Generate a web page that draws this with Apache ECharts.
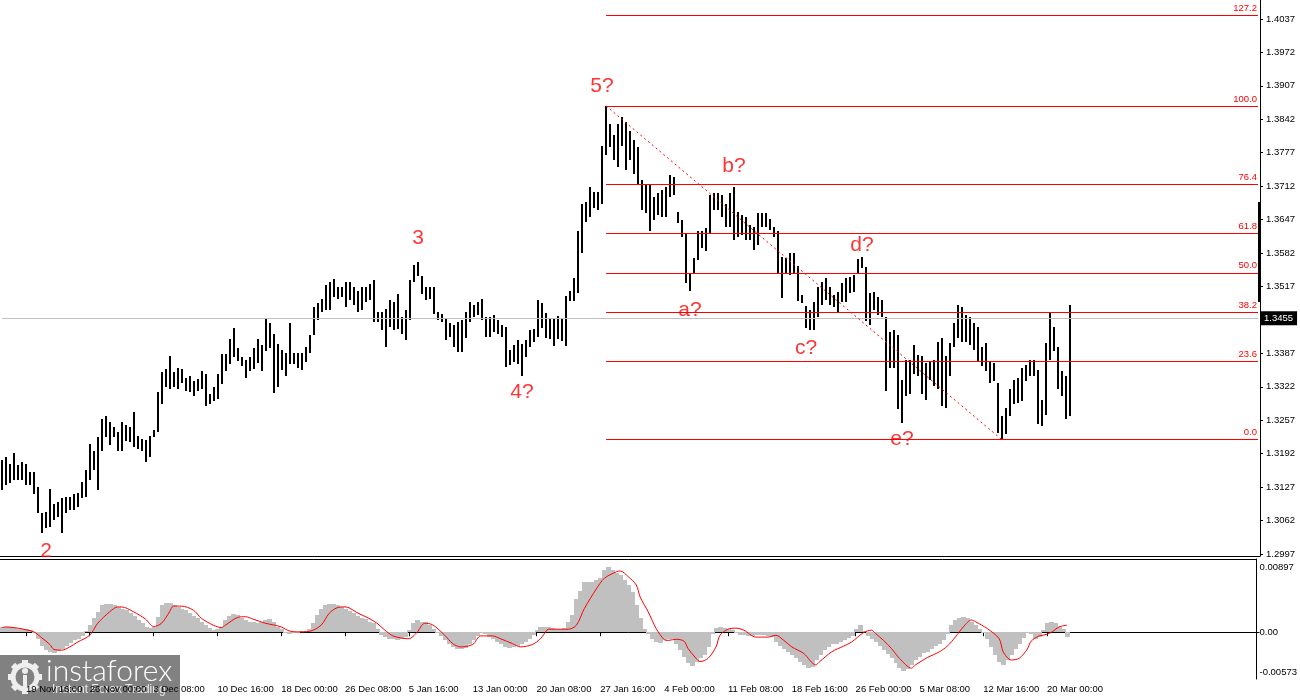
<!DOCTYPE html>
<html><head><meta charset="utf-8">
<script src="https://cdn.jsdelivr.net/npm/echarts@6/dist/echarts.min.js"></script>
<style>html,body{margin:0;padding:0;background:#fff}#c{width:1300px;height:700px}</style>
</head><body><div id="c"></div>
<script>
// ---- price bars (one bar per 4 px column) ----
const barHigh = [
1.3179,1.3185,1.3172,1.3193,1.3169,1.3176,1.3172,1.3156,1.3156,1.3127,
1.3076,1.3079,1.3124,1.3095,1.3098,1.3105,1.3108,1.3108,1.3114,1.3116,
1.3137,1.3160,1.3211,1.3198,1.3224,1.3259,1.3266,1.3253,1.3243,1.3234,
1.3253,1.3247,1.3243,1.3272,1.3227,1.3221,1.3218,1.3227,1.3237,1.3311,
1.3350,1.3356,1.3382,1.3350,1.3359,1.3356,1.3340,1.3343,1.3334,1.3337,
1.3353,1.3346,1.3308,1.3321,1.3346,1.3385,1.3385,1.3414,1.3437,1.3398,
1.3379,1.3375,1.3379,1.3398,1.3414,1.3404,1.3453,1.3446,1.3425,1.3406,
1.3393,1.3387,1.3445,1.3387,1.3387,1.3387,1.3400,1.3422,1.3477,1.3484,
1.3493,1.3519,1.3525,1.3532,1.3516,1.3516,1.3525,1.3525,1.3516,1.3509,
1.3516,1.3516,1.3522,1.3529,1.3467,1.3467,1.3474,1.3490,1.3487,1.3503,
1.3458,1.3471,1.3529,1.3558,1.3564,1.3538,1.3516,1.3516,1.3516,1.3467,
1.3464,1.3454,1.3445,1.3442,1.3448,1.3451,1.3467,1.3487,1.3480,1.3487,
1.3493,1.3458,1.3458,1.3461,1.3451,1.3442,1.3438,1.3393,1.3403,1.3413,
1.3406,1.3413,1.3432,1.3435,1.3490,1.3485,1.3466,1.3456,1.3453,1.3459,
1.3453,1.3498,1.3508,1.3533,1.3624,1.3678,1.3682,1.3711,1.3701,1.3701,
1.3791,1.3868,1.3833,1.3811,1.3833,1.3846,1.3836,1.3820,1.3801,1.3788,
1.3724,1.3714,1.3717,1.3691,1.3698,1.3704,1.3711,1.3733,1.3730,1.3662,
1.3646,1.3620,1.3543,1.3572,1.3624,1.3624,1.3630,1.3695,1.3698,1.3698,
1.3695,1.3678,1.3698,1.3711,1.3662,1.3656,1.3653,1.3637,1.3633,1.3659,
1.3659,1.3659,1.3649,1.3633,1.3624,1.3575,1.3572,1.3582,1.3582,1.3556,
1.3501,1.3479,1.3471,1.3487,1.3516,1.3526,1.3533,1.3516,1.3500,1.3507,
1.3523,1.3533,1.3536,1.3539,1.3571,1.3574,1.3555,1.3504,1.3507,1.3497,
1.3491,1.3458,1.3429,1.3433,1.3423,1.3336,1.3375,1.3375,1.3404,1.3384,
1.3381,1.3368,1.3371,1.3375,1.3410,1.3416,1.3381,1.3407,1.3445,1.3481,
1.3478,1.3462,1.3458,1.3445,1.3439,1.3400,1.3407,1.3371,1.3368,1.3329,
1.3265,1.3281,1.3317,1.3336,1.3339,1.3358,1.3365,1.3375,1.3375,1.3355,
1.3297,1.3407,1.3468,1.3439,1.3400,1.3352,1.3342,1.3481
];
const barLow = [
1.3121,1.3131,1.3134,1.3140,1.3141,1.3140,1.3131,1.3131,1.3114,1.3076,
1.3038,1.3047,1.3049,1.3063,1.3069,1.3037,1.3076,1.3082,1.3082,1.3089,
1.3105,1.3108,1.3140,1.3160,1.3121,1.3198,1.3224,1.3208,1.3224,1.3198,
1.3198,1.3217,1.3214,1.3205,1.3201,1.3198,1.3176,1.3185,1.3224,1.3234,
1.3288,1.3321,1.3317,1.3321,1.3317,1.3330,1.3314,1.3311,1.3305,1.3314,
1.3317,1.3285,1.3288,1.3295,1.3298,1.3327,1.3353,1.3366,1.3379,1.3372,
1.3363,1.3340,1.3353,1.3356,1.3369,1.3353,1.3392,1.3398,1.3309,1.3322,
1.3355,1.3342,1.3367,1.3367,1.3358,1.3355,1.3371,1.3387,1.3422,1.3451,
1.3467,1.3471,1.3471,1.3496,1.3493,1.3496,1.3477,1.3490,1.3480,1.3467,
1.3471,1.3487,1.3490,1.3448,1.3448,1.3432,1.3400,1.3438,1.3432,1.3435,
1.3425,1.3413,1.3451,1.3525,1.3538,1.3503,1.3490,1.3493,1.3464,1.3451,
1.3448,1.3413,1.3419,1.3400,1.3390,1.3390,1.3416,1.3448,1.3458,1.3461,
1.3451,1.3419,1.3419,1.3429,1.3425,1.3419,1.3361,1.3364,1.3371,1.3367,
1.3342,1.3380,1.3400,1.3409,1.3419,1.3437,1.3417,1.3414,1.3401,1.3414,
1.3411,1.3401,1.3488,1.3488,1.3504,1.3582,1.3643,1.3653,1.3669,1.3666,
1.3678,1.3772,1.3788,1.3762,1.3749,1.3791,1.3743,1.3762,1.3736,1.3717,
1.3666,1.3659,1.3624,1.3646,1.3656,1.3653,1.3653,1.3691,1.3695,1.3640,
1.3614,1.3524,1.3508,1.3543,1.3569,1.3591,1.3585,1.3620,1.3666,1.3666,
1.3653,1.3633,1.3633,1.3608,1.3614,1.3617,1.3608,1.3608,1.3588,1.3598,
1.3633,1.3633,1.3627,1.3614,1.3543,1.3495,1.3543,1.3540,1.3543,1.3488,
1.3485,1.3437,1.3433,1.3433,1.3458,1.3481,1.3491,1.3481,1.3478,1.3468,
1.3487,1.3487,1.3504,1.3507,1.3542,1.3552,1.3449,1.3442,1.3471,1.3462,
1.3458,1.3313,1.3358,1.3358,1.3278,1.3252,1.3304,1.3307,1.3346,1.3342,
1.3307,1.3297,1.3336,1.3323,1.3317,1.3284,1.3281,1.3342,1.3400,1.3416,
1.3410,1.3410,1.3404,1.3394,1.3371,1.3362,1.3352,1.3329,1.3333,1.3233,
1.3219,1.3230,1.3265,1.3288,1.3291,1.3294,1.3333,1.3342,1.3342,1.3249,
1.3246,1.3268,1.3375,1.3391,1.3317,1.3304,1.3259,1.3265
];
// ---- MACD histogram (per bar) and signal line (read points) ----
const macdHist = [
0.00065,0.00065,0.0006,0.0005,0.00045,0.0004,0.00037,0.00025,0.00004,-0.0008,
-0.0017,-0.0022,-0.0024,-0.0025,-0.0023,-0.002,-0.0017,-0.0013,-0.001,-0.0008,
-0.00045,0.0001,0.00086,0.0017,0.0025,0.0033,0.0035,0.0034,0.0033,0.0031,
0.0029,0.0027,0.0024,0.002,0.0015,0.0011,0.0007,0.0005,0.00065,0.0019,
0.0033,0.0036,0.0036,0.0033,0.0031,0.0029,0.0027,0.0024,0.002,0.0017,
0.0013,0.00086,0.00057,0.0003,0.00037,0.00065,0.0015,0.002,0.0022,0.0021,
0.0018,0.0015,0.0013,0.0012,0.0011,0.0013,0.0015,0.0016,0.0012,0.00065,
0.00045,0.00004,-0.00016,-0.00004,0.00004,0.0001,0.0002,0.00037,0.0011,0.0021,
0.0029,0.0033,0.0034,0.0035,0.0033,0.0031,0.0029,0.0026,0.0023,0.002,
0.0018,0.0016,0.0013,0.0011,0.00045,-0.0003,-0.0006,-0.0008,-0.00086,-0.0009,
-0.0008,-0.0006,0.00025,0.0011,0.0015,0.0013,0.0012,0.00086,0.00045,0.00004,
-0.00045,-0.001,-0.0015,-0.0018,-0.002,-0.0021,-0.0019,-0.0015,-0.001,-0.00045,
0.00004,-0.00016,-0.0006,-0.00086,-0.0012,-0.0015,-0.0018,-0.0019,-0.0018,-0.0017,
-0.0015,-0.0012,-0.0008,-0.0003,0.00025,0.00065,0.00065,0.00065,0.0005,0.00045,
0.00045,0.0005,0.0013,0.0021,0.0041,0.0051,0.0061,0.0062,0.0062,0.0064,
0.0066,0.0076,0.008,0.0076,0.0072,0.007,0.0064,0.0058,0.0049,0.0033,
0.0017,0.00045,-0.00016,-0.0008,-0.0012,-0.0013,-0.001,-0.0008,-0.00086,-0.0014,
-0.0022,-0.003,-0.0038,-0.0041,-0.0036,-0.0032,-0.0028,-0.0018,-0.00016,0.0005,
0.00065,0.00057,0.00037,0.00025,-0.00004,-0.0003,-0.00037,-0.00045,-0.00045,-0.00037,
-0.0003,-0.00037,-0.00045,-0.0006,-0.0012,-0.0017,-0.002,-0.0024,-0.0028,-0.0032,
-0.0037,-0.004,-0.0044,-0.0043,-0.0034,-0.0028,-0.0022,-0.0018,-0.0015,-0.0014,
-0.0012,-0.001,-0.0007,-0.00045,0.00045,0.0009,0.0001,-0.00045,-0.0008,-0.0012,
-0.0017,-0.0022,-0.0027,-0.0032,-0.0038,-0.0044,-0.0047,-0.0045,-0.004,-0.0034,
-0.003,-0.0026,-0.0024,-0.0021,-0.0017,-0.0014,-0.001,-0.00016,0.00086,0.0015,
0.0018,0.0019,0.0018,0.0013,0.00086,0.00045,0.00004,-0.0008,-0.0018,-0.0028,
-0.0036,-0.004,-0.0034,-0.0028,-0.002,-0.0014,-0.0007,-0.00004,-0.00016,-0.0008,
-0.0006,0.00025,0.0011,0.0013,0.0011,0.00065,0.00037,-0.0006
];
const sigIdx = [0,1,4,6,8,10,12,13,15,17,19,22,24,27,29,30,33,36,38,40,42,43,45,48,50,53,55,56,59,61,63,66,68,70,72,74,77,80,82,84,86,87,89,92,94,96,98,100,102,104,106,108,111,113,115,118,120,123,125,128,130,133,135,136,137,140,142,144,146,149,151,154,155,157,159,160,162,164,166,167,169,171,172,174,175,177,179,180,182,184,186,189,192,194,196,198,201,204,205,208,211,213,216,218,219,221,223,225,228,229,232,235,237,239,241,243,244,247,250,251,253,255,257,258,260,261,263,265,267];
const sigVal = [0.00057,0.00065,0.0005,0.0003,0.00004,-0.0007,-0.0015,-0.0021,-0.0022,-0.0018,-0.0012,-0.00037,0.0011,0.0025,0.0031,0.0031,0.0025,0.0016,0.0007,0.0011,0.0025,0.0032,0.0032,0.0027,0.0017,0.00086,0.00057,0.00086,0.0018,0.0019,0.0016,0.0011,0.0009,0.00065,0.00016,0.00004,0.0001,0.00086,0.0023,0.003,0.0031,0.003,0.0024,0.0017,0.0011,0.00025,-0.00045,-0.0007,-0.0008,-0.00004,0.0011,0.0009,-0.00037,-0.0014,-0.0018,-0.0015,-0.00045,-0.00045,-0.0008,-0.0014,-0.0018,-0.0015,-0.0008,-0.00016,0.00037,0.00037,0.00037,0.00086,0.0029,0.0053,0.0066,0.0074,0.0075,0.0068,0.0058,0.0043,0.0025,0.00045,-0.0009,-0.001,-0.00086,-0.0011,-0.002,-0.0032,-0.0036,-0.0032,-0.0018,-0.00037,0.00037,0.0005,0.00025,-0.0006,-0.0006,-0.00037,-0.001,-0.0018,-0.0026,-0.004,-0.0036,-0.0024,-0.0017,-0.0012,-0.00004,0.00025,-0.00016,-0.001,-0.002,-0.0032,-0.0044,-0.004,-0.0031,-0.0024,-0.0017,-0.0006,0.00065,0.0015,0.0013,0.00045,-0.0008,-0.0024,-0.0034,-0.0032,-0.0021,-0.0011,-0.00045,-0.00037,-0.00004,0.00065,0.00086];

// ---- axis ticks / labels ----
const priceTicks = [1.2997,1.3062,1.3127,1.3192,1.3257,1.3322,1.3387,1.3517,1.3582,1.3647,1.3712,1.3777,1.3842,1.3907,1.3972,1.4037];
const macdTicks = [-0.00573, 0, 0.00897];
const timeLabelIdx = [6,22,38,54,70,86,102,118,134,150,166,182,198,214,230,246,262];
const timeLabels = ['19 Nov 16:00','26 Nov 00:00','3 Dec 08:00','10 Dec 16:00','18 Dec 00:00','26 Dec 08:00','5 Jan 16:00','13 Jan 00:00','20 Jan 08:00','27 Jan 16:00','4 Feb 00:00','11 Feb 08:00','18 Feb 16:00','26 Feb 00:00','5 Mar 08:00','12 Mar 16:00','20 Mar 00:00'];

// ---- Fibonacci tool, bid, wave labels ----
const fibLevels = [0, 23.6, 38.2, 50, 61.8, 76.4, 100, 127.2];
const fibTexts = ['0.0','23.6','38.2','50.0','61.8','76.4','100.0','127.2'];
const fibLow = 1.3219, fibHigh = 1.3868;
const fibStartIdx = 151, fibLowIdx = 250;
const bidPrice = 1.3455;
const waveNames = ['2','3','4?','5?','a?','b?','c?','d?','e?'];
const waveIdx = [11,104,130,150,172,183,201,215,225];
const wavePrice = [1.3003,1.3611,1.3312,1.3907,1.3471,1.3751,1.3397,1.3598,1.3221];

const NCAT = 315;
const FONT = "'Liberation Sans', Arial, sans-serif";
const cats = Array.from({length: NCAT}, (_, i) => String(i));
const labelMap = {};
timeLabelIdx.forEach((k, j) => { labelMap[k] = timeLabels[j]; });
const isLabel = (i) => labelMap[i] !== undefined;

const lastIdx = NCAT - 1;
const fibLines = fibLevels.map((lv, j) => {
  const p = fibLow + (fibHigh - fibLow) * lv / 100;
  const lab = {show: true, position: 'insideEndTop', formatter: fibTexts[j], color: '#ff0000', fontSize: 9.5, fontFamily: FONT, distance: [1, 2]};
  const ls = {color: '#ff0000', width: 1, type: 'solid'};
  return [{coord: [fibStartIdx, p], label: lab, lineStyle: ls}, {coord: [lastIdx, p], label: lab, lineStyle: ls}];
});
const dashLs = {color: '#ff0000', width: 1, type: [2, 3]};
const dashLine = [{coord: [fibStartIdx, fibHigh], lineStyle: dashLs, label: {show: false}}, {coord: [fibLowIdx, fibLow], lineStyle: dashLs, label: {show: false}}];
const bidLab = {show: true, position: 'end', formatter: bidPrice.toFixed(4), color: '#fff', backgroundColor: '#000', padding: [2, 4, 2, 4], fontSize: 9.5, fontFamily: FONT, distance: 2};
const bidLs = {color: '#c0c0c0', width: 1, type: 'solid'};
const bidLine = [{coord: [0, bidPrice], lineStyle: bidLs, label: bidLab}, {coord: [lastIdx, bidPrice], lineStyle: bidLs, label: bidLab}];

function renderBar(params, api) {
  const i = api.value(0);
  const lo = api.coord([i, api.value(1)]);
  const hi = api.coord([i, api.value(2)]);
  const x = Math.round(lo[0]) - 1;
  const y = Math.round(hi[1]);
  const h = Math.max(1, Math.round(lo[1]) - y);
  return {type: 'rect', shape: {x: x, y: y, width: 2, height: h}, style: {fill: '#000'}};
}
// histogram column: fills its whole category slot (plus 1px overlap) so the area reads solid
function renderHist(params, api) {
  const i = api.value(0);
  const base = api.coord([i, 0]);
  const top = api.coord([i, api.value(1)]);
  const x = Math.round(base[0]) - 2;
  const y0 = Math.round(Math.min(base[1], top[1]));
  const y1 = Math.round(Math.max(base[1], top[1]));
  return {type: 'rect', shape: {x: x, y: y0, width: 5, height: Math.max(1, y1 - y0)}, style: {fill: '#c0c0c0'}};
}

// gear teeth for watermark logo
const teeth = [];
for (let t = 0; t < 8; t++) {
  teeth.push({type: 'rect', x: 25, y: 22, rotation: t * Math.PI / 4, shape: {x: -3, y: -17, width: 6, height: 6}, style: {fill: '#eeeeee'}});
}

const chart = echarts.init(document.getElementById('c'), null, {renderer: 'canvas'});
chart.setOption({
  animation: false,
  backgroundColor: '#ffffff',
  textStyle: {fontFamily: FONT},
  grid: [
    {left: 0, top: 0, width: 1260, height: 556},
    {left: 0, top: 559, width: 1260, height: 120}
  ],
  xAxis: [
    {gridIndex: 0, type: 'category', data: cats, boundaryGap: true,
     axisLine: {show: true, lineStyle: {color: '#000', width: 1}}, axisTick: {show: false}, axisLabel: {show: false}, splitLine: {show: false}},
    {gridIndex: 1, type: 'category', data: cats, boundaryGap: true, position: 'bottom',
     axisLine: {show: true, lineStyle: {color: '#000', width: 1}},
     axisTick: {show: true, alignWithLabel: true, interval: (i) => isLabel(i), length: 4, lineStyle: {color: '#000'}},
     axisLabel: {show: true, interval: (i) => isLabel(i), formatter: (v, i) => labelMap[i] || '', align: 'left', margin: 5, color: '#000', fontSize: 9.5, fontFamily: FONT},
     splitLine: {show: false}},
    {gridIndex: 1, type: 'category', data: cats, boundaryGap: true, position: 'top',
     axisLine: {show: true, lineStyle: {color: '#000', width: 1}}, axisTick: {show: false}, axisLabel: {show: false}, splitLine: {show: false}}
  ],
  yAxis: [
    {gridIndex: 0, type: 'value', position: 'right', min: 1.29930, max: 1.40739,
     axisLine: {show: true, lineStyle: {color: '#000', width: 1}},
     axisTick: {show: true, customValues: priceTicks, length: 3, lineStyle: {color: '#000'}},
     axisLabel: {show: true, customValues: priceTicks, formatter: (v) => v.toFixed(4), margin: 6, color: '#000', fontSize: 9.5, fontFamily: FONT},
     splitLine: {show: false}},
    {gridIndex: 1, type: 'value', position: 'right', min: -0.00573, max: 0.00897,
     axisLine: {show: true, lineStyle: {color: '#000', width: 1}},
     axisTick: {show: true, customValues: [0], length: 3, lineStyle: {color: '#000'}},
     axisLabel: {show: true, customValues: macdTicks, margin: 3,
       formatter: (v) => Math.abs(v) < 1e-9 ? '{m|0.00}' : (v > 0 ? '{t|' + v.toFixed(5) + '}' : '{b|' + v.toFixed(5) + '}'),
       rich: {
         t: {fontSize: 9.5, color: '#000', fontFamily: FONT, padding: [16, 0, 0, 0]},
         m: {fontSize: 9.5, color: '#000', fontFamily: FONT},
         b: {fontSize: 9.5, color: '#000', fontFamily: FONT, padding: [0, 0, 14, 0]}
       }},
     splitLine: {show: false}}
  ],
  series: [
    {type: 'custom', name: 'bars', xAxisIndex: 0, yAxisIndex: 0, clip: true,
     data: barHigh.map((h, i) => [i, barLow[i], h]), encode: {x: 0, y: [1, 2]}, renderItem: renderBar, z: 2},
    {type: 'scatter', name: 'waves', xAxisIndex: 0, yAxisIndex: 0, z: 5, symbolSize: 0,
     data: waveIdx.map((k, j) => [k, wavePrice[j]]),
     label: {show: true, position: 'inside', formatter: (p) => waveNames[p.dataIndex], color: '#ff0000', fontSize: 21, fontFamily: FONT},
     markLine: {silent: true, symbol: ['none', 'none'], animation: false, data: [bidLine].concat(fibLines, [dashLine])}},
    {type: 'custom', name: 'macd', xAxisIndex: 1, yAxisIndex: 1, clip: true,
     data: macdHist.map((v, i) => [i, v]), encode: {x: 0, y: 1}, renderItem: renderHist, z: 2},
    {type: 'line', name: 'signal', xAxisIndex: 1, yAxisIndex: 1, data: sigIdx.map((k, j) => [k, sigVal[j]]),
     showSymbol: false, symbol: 'none', smooth: 0.3, lineStyle: {color: '#ff0000', width: 1}, z: 3}
  ],
  graphic: [
    {type: 'rect', z: 100, shape: {x: 1258, y: 202, width: 3, height: 100}, style: {fill: '#000'}},
    {type: 'group', x: 0, y: 655, z: 100, children: [
      {type: 'rect', shape: {x: 0, y: 0, width: 180, height: 45}, style: {fill: 'rgba(112,112,112,0.88)'}},
      {type: 'circle', shape: {cx: 25, cy: 22, r: 12}, style: {fill: 'none', stroke: '#eeeeee', lineWidth: 5}},
      ...teeth,
      {type: 'circle', shape: {cx: 25, cy: 16, r: 3}, style: {fill: '#eeeeee'}},
      {type: 'rect', shape: {x: 23, y: 20, width: 4, height: 14}, style: {fill: '#eeeeee'}},
      {type: 'text', x: 46, y: 1, style: {text: 'instaforex', fill: '#ffffff', fontSize: 30, fontFamily: 'Lato, ' + FONT, fontWeight: 300}},
      {type: 'text', x: 52, y: 29, style: {text: 'Instant Forex Trading', fill: '#e8e8e8', fontSize: 12, fontFamily: FONT}}
    ]}
  ]
});
</script>
</body></html>
